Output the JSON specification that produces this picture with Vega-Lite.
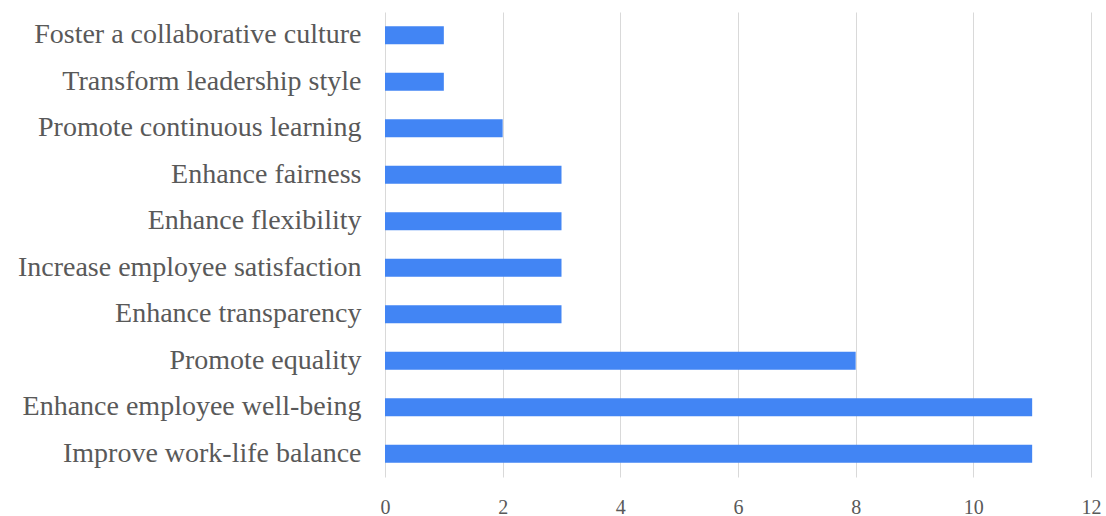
{
  "$schema": "https://vega.github.io/schema/vega-lite/v6.json",
  "autosize": "none",
  "padding": {"left": 385, "top": 12, "right": 15, "bottom": 39},
  "width": 706,
  "height": 465,
  "background": "white",
  "data": {"values": [
    {"measure": "Foster a collaborative culture", "count": 1},
    {"measure": "Transform leadership style", "count": 1},
    {"measure": "Promote continuous learning", "count": 2},
    {"measure": "Enhance fairness", "count": 3},
    {"measure": "Enhance flexibility", "count": 3},
    {"measure": "Increase employee satisfaction", "count": 3},
    {"measure": "Enhance transparency", "count": 3},
    {"measure": "Promote equality\u00a0", "count": 8},
    {"measure": "Enhance employee well-being", "count": 11},
    {"measure": "Improve work-life balance", "count": 11}
  ]},
  "mark": {"type": "bar", "color": "#4285F4"},
  "encoding": {
    "y": {
      "field": "measure", "type": "nominal", "sort": null,
      "scale": {"paddingInner": 0.61, "paddingOuter": 0.305},
      "axis": {"title": null, "domain": false, "ticks": false, "grid": false, "labelPadding": 24,
        "labelFont": "Liberation Serif", "labelFontSize": 28, "labelColor": "#595959", "labelLimit": 0}
    },
    "x": {
      "field": "count", "type": "quantitative",
      "scale": {"domain": [0, 12], "nice": false},
      "axis": {"title": null, "domain": false, "ticks": false, "values": [0,2,4,6,8,10,12],
        "labelOverlap": false, "labelFlush": false, "gridColor": "#d9d9d9", "gridWidth": 1, "labelPadding": 20,
        "labelFont": "Liberation Serif", "labelFontSize": 20, "labelColor": "#595959"}
    }
  },
  "config": {"view": {"stroke": null}}
}
